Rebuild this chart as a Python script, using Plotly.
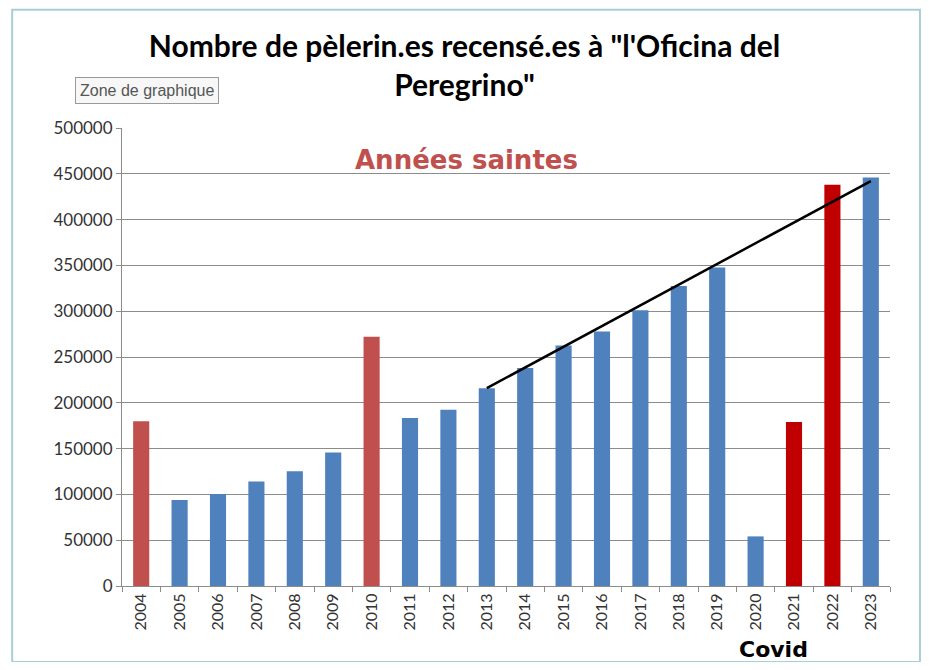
import plotly.graph_objects as go

years = [str(y) for y in range(2004, 2024)]
pilgrims = [179944, 93924, 100377, 114026, 125141, 145877, 272135, 183366,
            192488, 215880, 237886, 262516, 277854, 301036, 327378, 347578,
            54144, 178912, 438182, 446035]
holy_years = ["2004", "2010"]
post_covid_holy = ["2021", "2022"]

trend_x = ["2013", "2023"]
trend_y = [216000, 442000]

y_ticks = [0, 50000, 100000, 150000, 200000, 250000, 300000, 350000, 400000, 450000, 500000]

BLUE = "#4F81BD"
RED = "#C0504D"
DARK_RED = "#C00000"

colors = []
for y in years:
    if y in holy_years:
        colors.append(RED)
    elif y in post_covid_holy:
        colors.append(DARK_RED)
    else:
        colors.append(BLUE)

fig = go.Figure()
fig.add_trace(go.Bar(x=years, y=pilgrims, marker=dict(color=colors, line_width=0),
                     showlegend=False))
fig.add_trace(go.Scatter(x=trend_x, y=trend_y, mode="lines",
                         line=dict(color="black", width=2.5), showlegend=False))

fig.update_layout(
    width=913, height=654,
    margin=dict(l=114, r=31, t=120, b=76),
    paper_bgcolor="white", plot_bgcolor="white",
    bargap=0.58,
    font=dict(family="Lato, Open Sans, sans-serif", color="#333"),
    title=dict(
        text="<b>Nombre de pèlerin.es recensé.es à \"l'Oficina del<br>Peregrino\"</b>",
        x=0.5, xanchor="center", y=0.925, yanchor="top",
        font=dict(size=30, color="black", family="Lato, Open Sans, sans-serif"),
    ),
)

fig.update_yaxes(
    range=[0, 500000], tickvals=y_ticks, ticktext=[str(v) for v in y_ticks],
    showgrid=True, gridcolor="#8c8c8c", gridwidth=1,
    showline=True, linecolor="#8c8c8c", ticks="outside", ticklen=5,
    tickcolor="#8c8c8c", tickfont=dict(size=17, color="#333"), zeroline=False,
)
fig.update_xaxes(
    type="category", tickangle=-90, showline=True, linecolor="#8c8c8c",
    ticks="outside", tickson="boundaries", ticklen=5, tickcolor="#8c8c8c",
    tickfont=dict(size=16, color="#333"),
)

# Excel chart-area frame
fig.add_shape(type="rect", xref="paper", yref="paper",
              x0=-0.143, x1=1.039, y0=-0.166, y1=1.258,
              line=dict(color="#a9cfd6", width=2))

fig.add_annotation(text="<b>Années saintes</b>", xref="paper", yref="paper",
                   x=0.449, y=0.93, xanchor="center", yanchor="middle", showarrow=False,
                   font=dict(size=26, color=RED, family="Comic Sans MS, DejaVu Sans, sans-serif"))
fig.add_annotation(text="<b>Covid</b>", xref="paper", yref="paper",
                   x=0.848, y=-0.1376, xanchor="center", yanchor="middle", showarrow=False,
                   font=dict(size=22, color="black", family="Comic Sans MS, DejaVu Sans, sans-serif"))
fig.add_annotation(text="Zone de graphique", xref="paper", yref="paper",
                   x=-0.061, y=1.081, xanchor="left", yanchor="middle", showarrow=False,
                   bgcolor="#f7f7f7", bordercolor="#9a9a9a", borderwidth=1, borderpad=4,
                   font=dict(size=16, color="#555", family="Liberation Sans Narrow, Liberation Sans, sans-serif"))

fig.write_html("out.html")
